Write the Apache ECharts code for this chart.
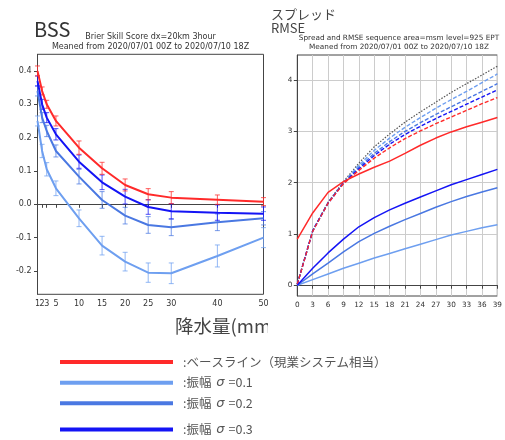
<!DOCTYPE html>
<html><head><meta charset="utf-8">
<script src="https://cdn.jsdelivr.net/npm/echarts@6/dist/echarts.min.js"></script>
<style>html,body{margin:0;padding:0;background:#fff}#c{width:505px;height:440px}</style>
</head><body><div id="c"></div>
<script>
// ---- Left panel: Brier Skill Score ----
const bssThresholds = [1, 2, 3, 5, 10, 15, 20, 25, 30, 40, 50];
const bssXTicks = [1, 2, 3, 5, 10, 15, 20, 25, 30, 40, 50];
const bssXLabelsA = [2, 5, 10, 15, 20, 25, 30, 40, 50];
const bssXLabelsB = [1, 3];
const bssYTicks = [-0.2, -0.1, 0.0, 0.1, 0.2, 0.3, 0.4];
const bssBaseline = [0.40, 0.34, 0.30, 0.25, 0.17, 0.108, 0.058, 0.03, 0.02, 0.014, 0.008];
const bssSigma01  = [0.25, 0.16, 0.105, 0.048, -0.042, -0.124, -0.172, -0.205, -0.207, -0.155, -0.10];
const bssSigma02  = [0.34, 0.26, 0.22, 0.16, 0.083, 0.013, -0.034, -0.062, -0.069, -0.054, -0.042];
const bssSigma03  = [0.37, 0.30, 0.26, 0.21, 0.128, 0.066, 0.023, -0.008, -0.021, -0.025, -0.028];
const errBaseline = [0.015, 0.012, 0.012, 0.015, 0.02, 0.018, 0.018, 0.017, 0.018, 0.014, 0.012];
const errSigma01  = [0.015, 0.02, 0.02, 0.022, 0.025, 0.028, 0.028, 0.029, 0.031, 0.033, 0.03];
const errSigma02  = [0.015, 0.015, 0.017, 0.018, 0.022, 0.025, 0.025, 0.025, 0.025, 0.025, 0.02];
const errSigma03  = [0.015, 0.015, 0.015, 0.017, 0.02, 0.022, 0.022, 0.022, 0.023, 0.023, 0.02];

// ---- Right panel: Spread and RMSE ----
const leadTimes = [0, 3, 6, 9, 12, 15, 18, 21, 24, 27, 30, 33, 36, 39];
const rightYTicks = [0, 1, 2, 3, 4];
const spreadBaseline = [0.90, 1.41, 1.81, 2.02, 2.17, 2.30, 2.42, 2.57, 2.73, 2.87, 2.99, 3.09, 3.18, 3.27];
const spreadSigma01  = [0, 0.11, 0.22, 0.33, 0.43, 0.53, 0.62, 0.71, 0.80, 0.89, 0.98, 1.05, 1.12, 1.18];
const spreadSigma02  = [0, 0.22, 0.43, 0.65, 0.85, 1.01, 1.15, 1.28, 1.40, 1.52, 1.63, 1.73, 1.82, 1.90];
const spreadSigma03  = [0, 0.33, 0.63, 0.90, 1.14, 1.32, 1.47, 1.60, 1.72, 1.84, 1.96, 2.06, 2.16, 2.26];
const rmseControl    = [0.02, 1.06, 1.62, 2.02, 2.38, 2.70, 2.95, 3.18, 3.38, 3.57, 3.76, 3.93, 4.10, 4.27];
const rmseSigma01    = [0.02, 1.06, 1.61, 2.00, 2.34, 2.63, 2.87, 3.08, 3.27, 3.45, 3.62, 3.78, 3.95, 4.12];
const rmseSigma02    = [0.02, 1.06, 1.61, 2.00, 2.30, 2.57, 2.80, 3.00, 3.17, 3.33, 3.48, 3.63, 3.78, 3.93];
const rmseSigma03    = [0.02, 1.06, 1.60, 1.99, 2.27, 2.53, 2.75, 2.94, 3.10, 3.25, 3.39, 3.53, 3.67, 3.81];
const rmseBaseline   = [0.02, 1.05, 1.60, 1.98, 2.24, 2.48, 2.68, 2.86, 3.01, 3.15, 3.28, 3.41, 3.54, 3.66];

const names = ['ベースライン（現業システム相当）', '振幅 σ=0.1', '振幅 σ=0.2', '振幅 σ=0.3'];
const colors = ['#ff2a2a', '#6e9ff0', '#4a78e2', '#1414f5'];

const leftTickFont = {fontFamily: 'DejaVu Sans', fontSize: 8, color: '#333'};
const rightTickFont = {fontFamily: 'DejaVu Sans', fontSize: 7.3, color: '#333'};
const pair = (xs, ys) => xs.map((x, i) => [x, ys[i]]);

function errSeries(vals, errs, color) {
  return {
    type: 'custom', xAxisIndex: 0, yAxisIndex: 0, silent: true, z: 3,
    data: bssThresholds.map((x, i) => [x, vals[i], errs[i]]),
    renderItem: function (params, api) {
      const x = api.value(0), y = api.value(1), e = api.value(2);
      const t = api.coord([x, y + e]), b = api.coord([x, y - e]);
      const st = {stroke: color, lineWidth: 1, opacity: 0.75};
      return {type: 'group', children: [
        {type: 'line', shape: {x1: t[0], y1: t[1], x2: b[0], y2: b[1]}, style: st},
        {type: 'line', shape: {x1: t[0] - 2.5, y1: t[1], x2: t[0] + 2.5, y2: t[1]}, style: st},
        {type: 'line', shape: {x1: b[0] - 2.5, y1: b[1], x2: b[0] + 2.5, y2: b[1]}, style: st}
      ]};
    }
  };
}
function leftLine(name, vals, color) {
  return {type: 'line', name: name, xAxisIndex: 0, yAxisIndex: 0, data: pair(bssThresholds, vals),
    showSymbol: false, symbol: 'none', lineStyle: {color: color, width: 2}, itemStyle: {color: color}, z: 4};
}
function rightLine(name, vals, color, type, width) {
  return {type: 'line', name: name, xAxisIndex: 1, yAxisIndex: 1, data: pair(leadTimes, vals),
    showSymbol: false, symbol: 'none', lineStyle: {color: color, width: width, type: type}, itemStyle: {color: color}, z: 4};
}

const legendYs = [362, 382.7, 403.3, 429.5];
const legends = names.map((n, i) => ({
  left: 60, top: legendYs[i] - 8, padding: 0, selectedMode: false,
  itemWidth: 113, itemHeight: 4, icon: 'rect',
  data: [{name: n, icon: 'rect', itemStyle: {color: colors[i]}}],
  formatter: function (name) { return ':' + name.replace('σ', '{i|σ}'); },
  textStyle: {fontFamily: 'Noto Sans CJK JP', fontSize: 12.5, color: '#555', lineHeight: 16, padding: [0, 0, 0, 5],
    rich: {i: {fontStyle: 'italic', fontFamily: 'DejaVu Sans', fontSize: 13, color: '#555', padding: [0, 4, 0, 2]}}}
}));

const option = {
  animation: false,
  backgroundColor: '#fff',
  title: [
    {text: 'BSS', left: 34, top: 19, padding: 0, textStyle: {fontFamily: 'Noto Sans CJK JP', fontWeight: 'normal', fontSize: 20, lineHeight: 20, color: '#333'}},
    {text: 'スプレッド', left: 271, top: 7, padding: 0, textStyle: {fontFamily: 'Noto Sans CJK JP', fontWeight: 'normal', fontSize: 13, lineHeight: 14, color: '#444'}},
    {text: 'RMSE', left: 271, top: 21.5, padding: 0, textStyle: {fontFamily: 'Noto Sans CJK JP', fontWeight: 'normal', fontSize: 13, lineHeight: 14, color: '#444'}},
    {text: 'Brier Skill Score dx=20km 3hour\nMeaned from 2020/07/01 00Z to 2020/07/10 18Z', left: 150.5, top: 31.5, padding: 0, textAlign: 'center',
      textStyle: {fontFamily: 'DejaVu Sans', fontWeight: 'normal', fontSize: 8, lineHeight: 10, color: '#333', align: 'center'}},
    {text: 'Spread and RMSE sequence area=msm level=925 EPT\nMeaned from 2020/07/01 00Z to 2020/07/10 18Z', left: 399, top: 33.5, padding: 0, textAlign: 'center',
      textStyle: {fontFamily: 'DejaVu Sans', fontWeight: 'normal', fontSize: 7.3, lineHeight: 9, color: '#333', align: 'center'}},
    {text: '降水量(mm)', left: 175, top: 316, padding: 0, textStyle: {fontFamily: 'Noto Sans CJK JP', fontWeight: 'normal', fontSize: 18.5, lineHeight: 20, color: '#444'}}
  ],
  legend: legends,
  grid: [
    {left: 37.5, top: 54.3, width: 226, height: 240, show: true, borderColor: '#444', borderWidth: 1, backgroundColor: 'transparent', containLabel: false},
    {left: 297.3, top: 55, width: 203.7, height: 241, show: true, borderColor: '#444', borderWidth: 1, backgroundColor: 'transparent', containLabel: false}
  ],
  xAxis: [
    {type: 'value', gridIndex: 0, min: 1, max: 50, position: 'bottom',
      axisLine: {show: true, lineStyle: {color: '#444'}},
      axisTick: {show: true, inside: false, length: 3.5, customValues: bssXTicks, lineStyle: {color: '#444'}},
      axisLabel: {show: true, margin: 6, customValues: bssXLabelsA, ...leftTickFont},
      splitLine: {show: false}},
    {type: 'value', gridIndex: 1, min: 0, max: 39, interval: 3,
      axisLine: {show: true, lineStyle: {color: '#444'}},
      axisTick: {show: true, length: 3.5, lineStyle: {color: '#444'}},
      axisLabel: {show: true, margin: 6, ...rightTickFont},
      splitLine: {show: true, lineStyle: {color: '#cccccc', width: 1}}},
    {type: 'value', gridIndex: 0, min: 1, max: 50, position: 'bottom', offset: 0,
      axisLine: {show: false}, axisTick: {show: false},
      axisLabel: {show: true, margin: 6, customValues: bssXLabelsB, ...leftTickFont},
      splitLine: {show: false}}
  ],
  yAxis: [
    {type: 'value', gridIndex: 0, min: -0.27, max: 0.45,
      axisLine: {show: true, lineStyle: {color: '#444'}},
      axisTick: {show: true, length: 3.5, customValues: bssYTicks, lineStyle: {color: '#444'}},
      axisLabel: {show: true, margin: 6, customValues: bssYTicks, formatter: v => v.toFixed(1), ...leftTickFont},
      splitLine: {show: false}},
    {type: 'value', gridIndex: 1, min: -0.21, max: 4.49,
      axisLine: {show: true, lineStyle: {color: '#444'}},
      axisTick: {show: true, length: 3.5, customValues: rightYTicks, lineStyle: {color: '#444'}},
      axisLabel: {show: true, margin: 5, customValues: rightYTicks, ...rightTickFont},
      splitLine: {show: true, lineStyle: {color: '#cccccc', width: 1}}}
  ],
  graphic: [
    {type: 'rect', left: 268, top: 297, z: 100, zlevel: 1, shape: {width: 23, height: 45}, style: {fill: '#fff'}}
  ],
  series: [
    errSeries(bssSigma01, errSigma01, colors[1]),
    errSeries(bssSigma02, errSigma02, colors[2]),
    errSeries(bssSigma03, errSigma03, colors[3]),
    errSeries(bssBaseline, errBaseline, colors[0]),
    leftLine(names[1], bssSigma01, colors[1]),
    leftLine(names[2], bssSigma02, colors[2]),
    leftLine(names[3], bssSigma03, colors[3]),
    leftLine(names[0], bssBaseline, colors[0]),
    rightLine('RMSE control', rmseControl, '#555', [1.5, 1.5], 1.2),
    rightLine('RMSE ' + names[1], rmseSigma01, colors[1], [4, 2], 1.4),
    rightLine('RMSE ' + names[2], rmseSigma02, colors[2], [4, 2], 1.4),
    rightLine('RMSE ' + names[3], rmseSigma03, colors[3], [4, 2], 1.4),
    rightLine('RMSE ' + names[0], rmseBaseline, colors[0], [4, 2], 1.4),
    rightLine('Spread ' + names[1], spreadSigma01, colors[1], 'solid', 1.5),
    rightLine('Spread ' + names[2], spreadSigma02, colors[2], 'solid', 1.5),
    rightLine('Spread ' + names[3], spreadSigma03, colors[3], 'solid', 1.5),
    rightLine('Spread ' + names[0], spreadBaseline, colors[0], 'solid', 1.5)
  ]
};
const chart = echarts.init(document.getElementById('c'), null, {renderer: 'canvas'});
chart.setOption(option);
</script></body></html>
